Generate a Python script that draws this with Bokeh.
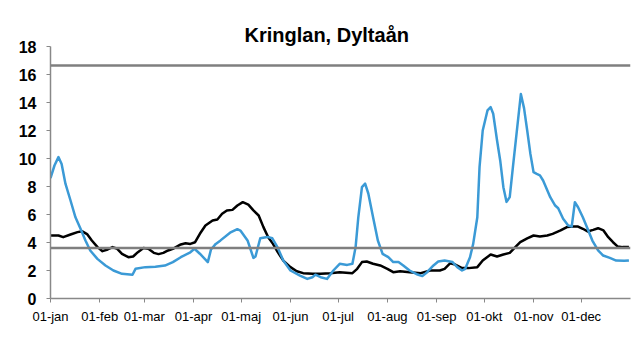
from bokeh.plotting import figure
from bokeh.models import Span, FixedTicker, Range1d
from bokeh.embed import file_html
from bokeh.resources import INLINE

TITLE = "Kringlan, Dyltaån"

month_days = [0, 31, 59, 90, 120, 151, 181, 212, 243, 273, 304, 334]
month_labels = ["01-jan", "01-feb", "01-mar", "01-apr", "01-maj", "01-jun",
                "01-jul", "01-aug", "01-sep", "01-okt", "01-nov", "01-dec"]

blue_day = [0, 2.5, 5, 7, 9.4, 12.6, 15.7, 18.9, 22, 25, 29.5, 34.6, 39.6, 45, 51.6, 53.5,
            59.7, 66, 72, 77, 82, 88, 90.6, 94, 99, 101, 104, 107, 113, 117.6, 119.5, 124,
            127.7, 129, 132, 136.5, 139.6, 142.8, 146.5, 151, 157, 161.6, 164.8, 166.7, 170,
            174, 178, 182, 186.7, 190, 192, 193.7, 196, 198, 200, 203, 206, 209, 212.6,
            215.7, 219, 222, 226, 231, 234, 237, 241, 244, 248, 253, 256, 259, 261, 264,
            266, 268.6, 270, 272, 275, 277, 278.6, 281, 283, 285, 287, 289, 291, 293.7,
            296, 298, 300, 302, 304, 306, 308, 310, 314.5, 317.6, 319.5, 322.6, 325.8,
            328, 330, 332, 335, 338, 341, 344.6, 347.8, 352, 356, 361, 364]
blue_val = [8.6, 9.5, 10.1, 9.6, 8.2, 7.0, 5.8, 4.98, 4.14, 3.43, 2.83, 2.36, 2.0, 1.76, 1.7, 2.12,
            2.24, 2.26, 2.35, 2.6, 2.95, 3.3, 3.55, 3.2, 2.6, 3.5, 3.9, 4.15, 4.7, 4.95, 4.85, 4.15,
            2.9, 3.0, 4.3, 4.4, 4.3, 3.67, 2.71, 2.0, 1.64, 1.4, 1.52, 1.7, 1.52,
            1.4, 2.0, 2.48, 2.4, 2.48, 3.67, 5.8, 7.95, 8.2, 7.5, 5.8, 4.14, 3.19, 2.95,
            2.6, 2.6, 2.36, 2.0, 1.71, 1.6, 1.88, 2.36, 2.64, 2.71, 2.6, 2.24, 2.0, 2.12, 2.95,
            3.9, 5.8, 9.38, 12.0, 13.43, 13.67, 13.2, 11.3, 9.86, 7.95, 6.9, 7.24, 9.38, 12.2,
            14.6, 13.6, 12.0, 10.33, 9.02, 8.9, 8.8, 8.43, 7.24, 6.64, 6.45, 5.69, 5.21,
            5.14, 6.88, 6.52, 5.8, 4.98, 4.14, 3.43, 3.07, 2.9, 2.71, 2.69, 2.72]

black_day = [0, 5, 8, 12.6, 17, 20, 23, 26, 29.6, 32.7, 36, 39, 42, 45, 49, 52, 55, 58.5, 61.6,
             65, 68, 71, 74, 77, 82, 85, 88, 91, 94, 97.5, 102, 105, 108, 111, 114.5, 117.6,
             121, 124.5, 127.7, 131, 134, 137, 140, 143, 146.5, 151, 155, 159, 165, 170, 176,
             182, 190, 193, 196, 199, 203, 207.5, 212, 215.7, 220, 226, 233, 239, 245, 248,
             251.6, 254.7, 259, 263, 268.6, 272, 277, 281, 285, 289, 292.5, 295.6, 300, 304,
             308, 312.6, 316, 321, 325, 329, 332, 335, 338, 341.5, 344.6, 348, 351, 354, 357,
             360, 364]
black_val = [4.5, 4.5, 4.38, 4.57, 4.74, 4.8, 4.6, 4.14, 3.67, 3.38, 3.5, 3.67, 3.55, 3.19, 2.95,
             3.0, 3.31, 3.6, 3.55, 3.26, 3.17, 3.26, 3.43, 3.55, 3.86, 3.95, 3.9, 4.02, 4.62, 5.21,
             5.57, 5.64, 6.05, 6.29, 6.33, 6.64, 6.88, 6.7, 6.29, 5.93, 5.1, 4.38, 3.9, 3.31, 2.71,
             2.24, 1.95, 1.81, 1.76, 1.76, 1.81, 1.88, 1.81, 2.12, 2.6, 2.64, 2.48, 2.36, 2.12,
             1.88, 1.95, 1.88, 1.81, 2.0, 2.0, 2.12, 2.52, 2.43, 2.17, 2.17, 2.24, 2.71, 3.14,
             3.0, 3.14, 3.26, 3.67, 4.02, 4.29, 4.5, 4.43, 4.5, 4.62, 4.86, 5.1, 5.14, 5.14, 4.98,
             4.79, 4.9, 5.02, 4.86, 4.38, 4.02, 3.71, 3.67, 3.67]

ref_levels = [16.65, 3.6]
y_ticks = [0, 2, 4, 6, 8, 10, 12, 14, 16, 18]

FONT = "Liberation Sans"

p = figure(width=640, height=352, output_backend="svg", toolbar_location=None,
           x_range=Range1d(0, 365), y_range=Range1d(0, 18),
           min_border_left=50, min_border_right=10, min_border_top=46, min_border_bottom=54)
p.title.text = TITLE
p.title.align = "left"
p.title.offset = 194
p.title.text_font = FONT
p.title.text_font_size = "20px"
p.title.text_font_style = "bold"
p.title.text_color = "#000000"
p.title.standoff = 2

p.outline_line_color = None
p.xgrid.grid_line_color = None
p.ygrid.grid_line_color = None
p.background_fill_color = "white"
p.border_fill_color = "white"

for lv in ref_levels:
    p.add_layout(Span(location=lv, dimension="width", line_color="#7f7f7f", line_width=2.5))

p.line(black_day, black_val, line_color="#000000", line_width=2.5, line_join="round")
p.line(blue_day, blue_val, line_color="#3b9ad6", line_width=2.5, line_join="round")

xa = p.xaxis[0]
xa.ticker = FixedTicker(ticks=month_days)
xa.major_label_overrides = {d: l for d, l in zip(month_days, month_labels)}
xa.major_label_text_font = FONT
xa.major_label_text_font_size = "13px"
xa.major_label_text_color = "#000000"
xa.axis_line_color = "#888888"
xa.axis_line_width = 1.5
xa.major_tick_line_color = "#888888"
xa.major_tick_in = 0
xa.major_tick_out = 4
xa.minor_tick_line_color = None
xa.major_label_standoff = 6

ya = p.yaxis[0]
ya.ticker = FixedTicker(ticks=y_ticks)
ya.major_label_text_font = FONT
ya.major_label_text_font_size = "16px"
ya.major_label_text_font_style = "bold"
ya.major_label_text_color = "#000000"
ya.axis_line_color = "#888888"
ya.axis_line_width = 1.5
ya.major_tick_line_color = "#888888"
ya.major_tick_in = 0
ya.major_tick_out = 4
ya.minor_tick_line_color = None
ya.major_label_standoff = 10

open("out.html", "w").write(file_html(p, INLINE))
